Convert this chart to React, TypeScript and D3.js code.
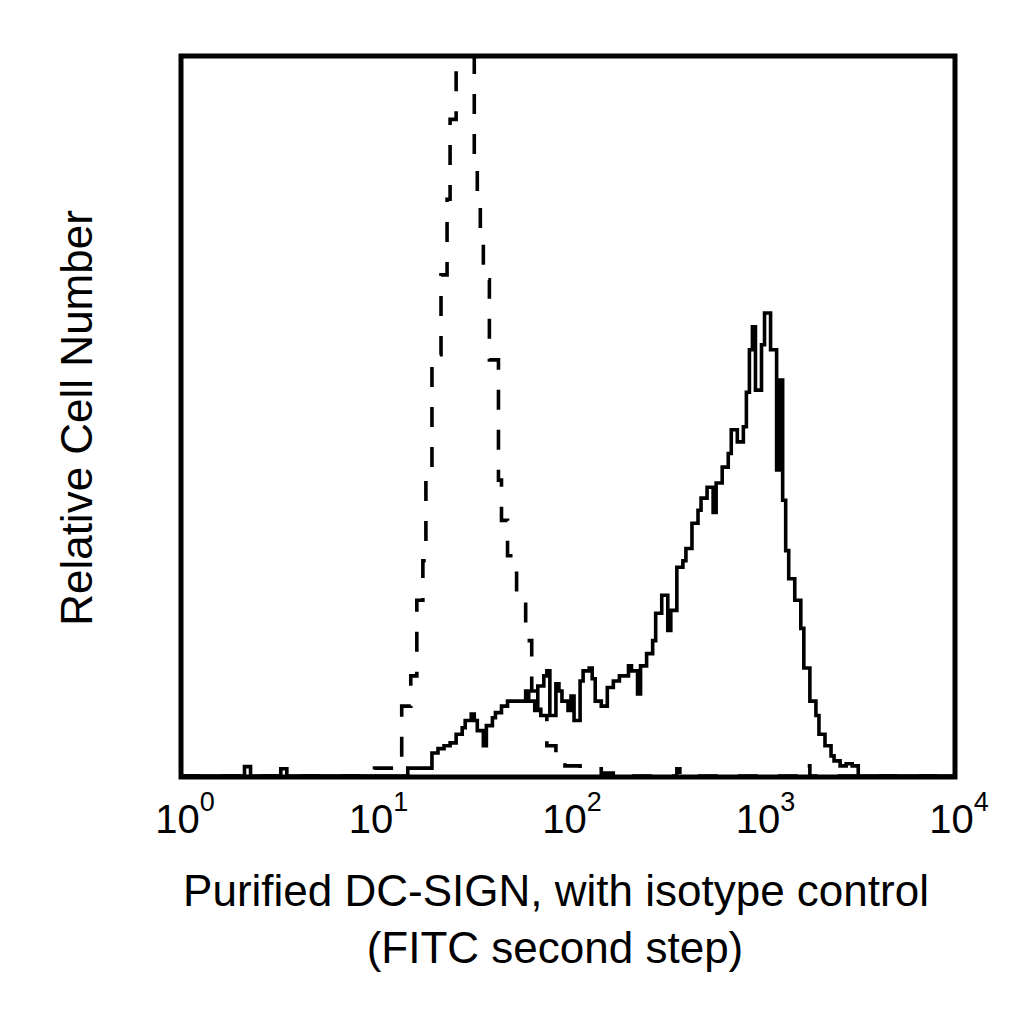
import React from 'react';
import * as d3 from 'd3';

// 256-channel log histogram (64 channels per decade), counts scaled to 100 = top of frame
const dcSignChannels = [
  0, 21, 23, 33, 35, 75, 83, 85, 87, 89, 91, 93, 94, 96, 97, 98, 100, 101, 103, 104,
  106, 108, 114, 115, 117, 118, 120, 121, 122, 124, 125, 126, 128, 129, 130, 132, 133, 135, 136, 137,
  139, 141, 143, 145, 148, 149, 151, 152, 154, 156, 157, 159, 161, 162, 164, 166, 167, 169, 171, 172,
  174, 176, 177, 179, 181, 182, 184, 186, 187, 188, 189, 190, 192, 193, 195, 197, 198, 199, 200, 201,
  203, 205, 206, 208, 210, 211, 213, 215, 216, 218, 220, 222, 224, 256,
];
const dcSignCounts = [
  0, 1.3, 0, 1.0, 0, 1.1, 3.2, 3.8, 4.2, 4.6, 5.8, 6.7, 7.7, 8.6, 7.7, 6.3, 4.2, 7.0, 8.1, 8.8,
  9.7, 10.4, 11.8, 10.4, 9.1, 12.5, 13.9, 14.6, 8.4, 12.8, 11.8, 10.4, 9.1, 11.1, 7.7, 13.2, 14.6, 15.0, 13.5, 10.4,
  9.7, 12.3, 13.2, 13.9, 15.3, 14.6, 11.4, 15.3, 17.0, 18.8, 22.6, 25.1, 20.2, 23.0, 29.0, 29.9, 31.6, 35.1, 36.9, 38.6,
  40.1, 36.6, 40.7, 42.9, 44.8, 48.1, 46.4, 48.5, 53.3, 59.2, 62.4, 53.6, 59.9, 64.3, 59.2, 42.5, 55.0, 38.3, 31.3, 27.4,
  24.4, 20.5, 15.0, 10.4, 8.4, 5.8, 4.2, 2.8, 2.1, 1.4, 1.7, 1.4, 0, 0,
];

const isotypeChannels = [
  0, 64, 71, 73, 76, 78, 80, 81, 83, 86, 88, 89, 91, 93, 97, 98, 99, 100, 102, 105,
  106, 108, 111, 114, 116, 119, 121, 124, 127, 132, 139, 145, 164, 165, 207, 208, 256,
];
const isotypeCounts = [
  0, 1.1, 1.4, 9.7, 13.9, 24.4, 29.9, 41.1, 58.5, 69.6, 80.1, 91.2, 98.2, 102, 85.7, 80.1, 74.5, 68.9, 57.8, 41.1,
  35.5, 30.6, 24.4, 18.8, 11.8, 8.4, 4.2, 2.8, 1.4, 1.0, 0.4, 0, 1.0, 0, 1.4, 0, 0,
];

const decadeChannels = [0, 64, 128, 192, 256];
const decadeExponents = ['0', '1', '2', '3', '4'];

const xTitle = 'Purified DC-SIGN, with isotype control';
const xSubtitle = '(FITC second step)';
const yTitle = 'Relative Cell Number';

export default function App() {
  const left = 181;
  const right = 955;
  const top = 56;
  const bottom = 777;

  const x = d3.scaleLinear().domain([0, 256]).range([left, right]);
  const y = d3.scaleLinear().domain([0, 100]).range([bottom - 1, top]);

  const line = d3
    .line<[number, number]>()
    .x(d => x(d[0]))
    .y(d => y(d[1]))
    .curve(d3.curveStepAfter);

  const dcSign = dcSignChannels.map((c, i) => [c, dcSignCounts[i]] as [number, number]);
  const isotype = isotypeChannels.map((c, i) => [c, isotypeCounts[i]] as [number, number]);

  const font = '"Liberation Sans", Arial, sans-serif';

  return (
    <svg
      width={1024}
      height={1024}
      style={{ position: 'absolute', left: 0, top: 0, background: '#fff' }}
      fontFamily={font}
    >
      <defs>
        <clipPath id="plot">
          <rect x={left} y={top} width={right - left} height={bottom - top} />
        </clipPath>
      </defs>
      <g clipPath="url(#plot)" fill="none" stroke="#000" strokeWidth={3.6}>
        <path d={line(isotype) || ''} strokeDasharray="20 20" />
        <path d={line(dcSign) || ''} />
      </g>
      <rect
        x={left}
        y={top}
        width={right - left}
        height={bottom - top}
        fill="none"
        stroke="#000"
        strokeWidth={5}
      />
      {decadeChannels.map((c, i) => (
        <text key={c} x={x(c) + 4} y={833} fontSize={40} textAnchor="middle" fill="#000">
          10
          <tspan dy={-22} fontSize={27}>
            {decadeExponents[i]}
          </tspan>
        </text>
      ))}
      <text x={556} y={906} fontSize={44} textAnchor="middle" fill="#000">
        {xTitle}
      </text>
      <text x={555} y={963} fontSize={44} textAnchor="middle" fill="#000">
        {xSubtitle}
      </text>
      <text
        transform="translate(92,418) rotate(-90)"
        fontSize={44}
        textAnchor="middle"
        fill="#000"
      >
        {yTitle}
      </text>
    </svg>
  );
}
